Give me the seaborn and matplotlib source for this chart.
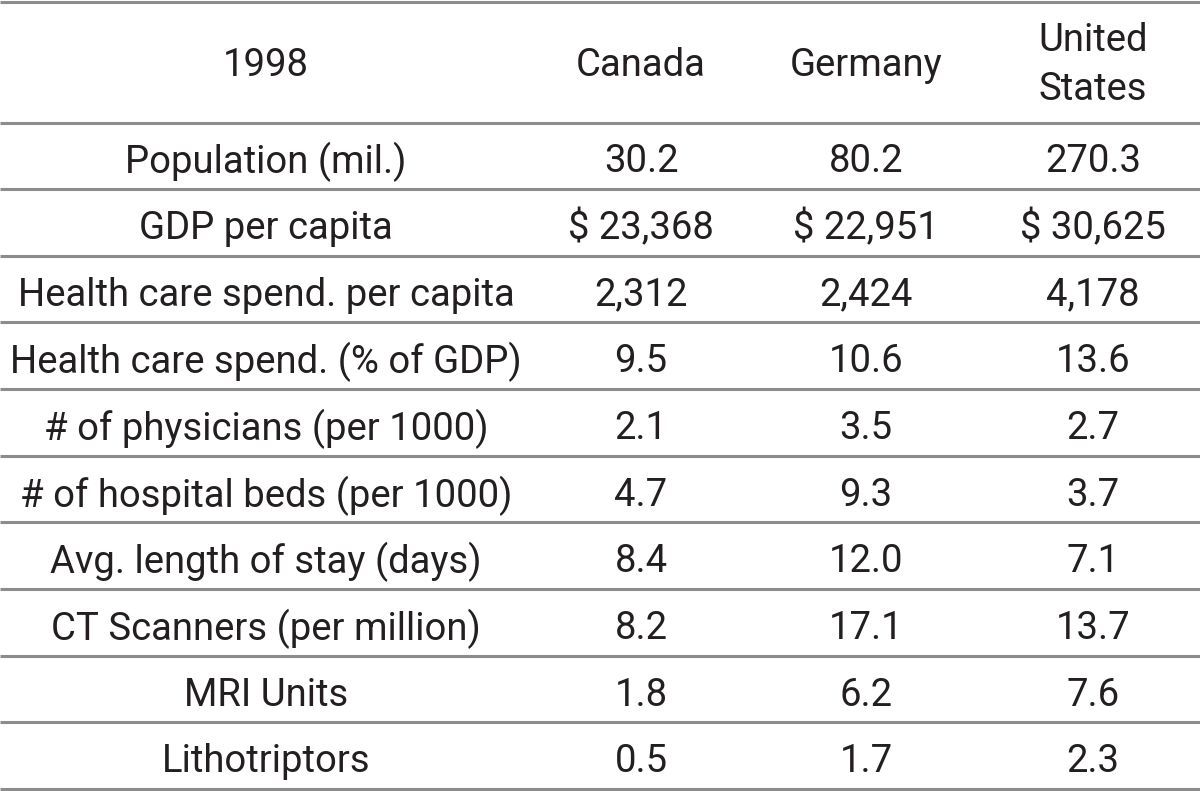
import matplotlib
matplotlib.use("Agg")
import matplotlib.pyplot as plt
import seaborn as sns

# table content
header_label = "1998"
countries = ["Canada", "Germany", "United\nStates"]
row_labels = [
    "Population (mil.)",
    "GDP per capita",
    "Health care spend. per capita",
    "Health care spend. (% of GDP)",
    "# of physicians (per 1000)",
    "# of hospital beds (per 1000)",
    "Avg. length of stay (days)",
    "CT Scanners (per million)",
    "MRI Units",
    "Lithotriptors",
]
canada = ["30.2", "$ 23,368", "2,312", "9.5", "2.1", "4.7", "8.4", "8.2", "1.8", "0.5"]
germany = ["80.2", "$ 22,951", "2,424", "10.6", "3.5", "9.3", "12.0", "17.1", "6.2", "1.7"]
united_states = ["270.3", "$ 30,625", "4,178", "13.6", "2.7", "3.7", "7.1", "13.7", "7.6", "2.3"]

sns.set_theme(style="white")
plt.rcParams["font.family"] = ["Roboto", "DejaVu Sans"]

fig = plt.figure(figsize=(12, 7.91), dpi=100)
ax = fig.add_axes([0, 0, 1, 1])
ax.set_xlim(0, 1200)
ax.set_ylim(791, 0)
ax.axis("off")

col_x = [266, 641, 866, 1093]
header_top, header_bottom = 1.5, 122.5
row_h = 66.65
text_color = "#231f20"
fs = 27.5

# horizontal rules
rules = [header_top, header_bottom] + [header_bottom + row_h * (i + 1) for i in range(len(row_labels))]
ax.hlines(rules, 0, 1200, colors="#8c8c8c", linewidth=2.2)

# header
hy = (header_top + header_bottom) / 2 + 3
ax.text(col_x[0], hy, header_label, ha="center", va="center", fontsize=fs, color=text_color)
for x, name in zip(col_x[1:], countries):
    ax.text(x, hy, name, ha="center", va="center", fontsize=fs, color=text_color,
            linespacing=1.4)

# body
columns = [row_labels, canada, germany, united_states]
for i in range(len(row_labels)):
    y = header_bottom + row_h * (i + 0.5) + 2
    for x, col in zip(col_x, columns):
        ax.text(x, y, col[i], ha="center", va="center_baseline", fontsize=fs, color=text_color)

fig.savefig("out.png", dpi=100, facecolor="white")
